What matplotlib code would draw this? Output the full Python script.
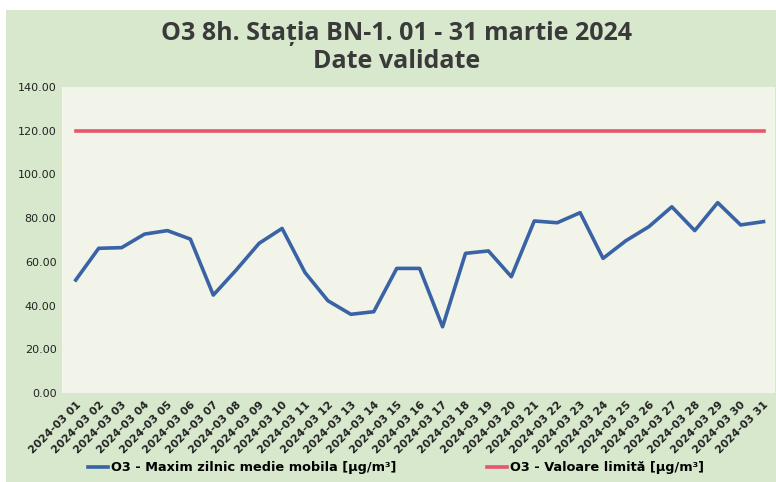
import matplotlib
matplotlib.use("Agg")
import matplotlib.pyplot as plt
from matplotlib.patches import Rectangle

days = [f"2024-03 {d:02d}" for d in range(1, 32)]
o3_max = [51.7, 66.2, 66.5, 72.7, 74.3, 70.4, 44.8, 56.3, 68.5, 75.3,
          55.1, 42.2, 36.0, 37.2, 57.0, 57.0, 30.3, 63.9, 65.0, 53.2,
          78.7, 77.9, 82.5, 61.6, 69.7, 76.1, 85.2, 74.3, 87.1, 76.9, 78.4]
limit = [120.0] * 31
yticks = [0, 20, 40, 60, 80, 100, 120, 140]

W, H = 776, 482
fig = plt.figure(figsize=(W / 100, H / 100), dpi=100, facecolor="white")
fig.patches.append(Rectangle((6 / W, 0), 1 - 6 / W, 1 - 10 / H,
                             transform=fig.transFigure, facecolor="#d8e8cd",
                             edgecolor="none", zorder=-10))

ax = fig.add_axes([62 / W, (H - 393) / H, (775 - 62) / W, (393 - 87) / H])
ax.set_facecolor("#f2f4ea")
for s in ax.spines.values():
    s.set_visible(False)

x = list(range(len(days)))
ax.plot(x, o3_max, color="#3a63a5", lw=2.6, solid_joinstyle="round",
        label="O3 - Maxim zilnic medie mobila [µg/m³]")
ax.plot(x, limit, color="#e8546a", lw=2.6,
        label="O3 - Valoare limită [µg/m³]")

ax.set_ylim(0, 140)
ax.set_yticks(yticks)
ax.set_yticklabels([f"{v:.2f}" for v in yticks], fontsize=8, color="#222222")
ax.set_xlim(-0.6, 30.5)
ax.set_xticks(x)
ax.set_xticklabels(days, rotation=45, ha="right", rotation_mode="anchor",
                   fontsize=7.8, fontweight="bold", color="#222222")
ax.tick_params(length=0, pad=4)
ax.tick_params(axis="x", pad=5)

cx = 397 / W
tfont = dict(fontsize=18, fontweight="bold", color="#3a3a3a",
             family=["Open Sans", "DejaVu Sans"])
fig.text(cx, 1 - 33 / H, "O3 8h. Stația BN-1. 01 - 31 martie 2024",
         ha="center", va="center", **tfont)
fig.text(cx, 1 - 61 / H, "Date validate", ha="center", va="center", **tfont)

fig.legend(loc="center", bbox_to_anchor=(0.51, 1 - 468 / H), ncol=2,
           frameon=False, prop={"weight": "bold", "size": 9.3},
           handlelength=1.6, handletextpad=0.2, columnspacing=7)

fig.savefig("out.png", dpi=100, facecolor=fig.get_facecolor())
